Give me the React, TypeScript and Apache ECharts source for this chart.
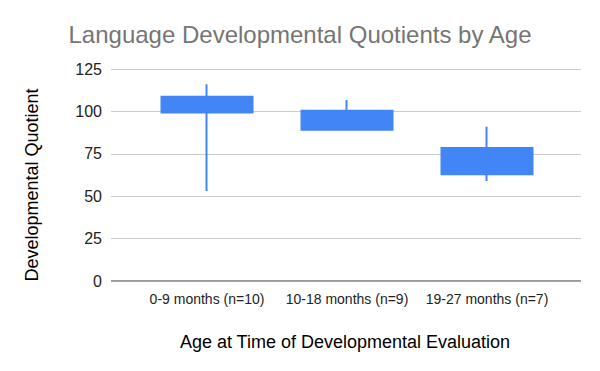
import React, { useEffect, useRef } from "react";
import * as echarts from "echarts";

const categories = ["0-9 months (n=10)", "10-18 months (n=9)", "19-27 months (n=7)"];
// [open(box bottom), close(box top), low, high]
const boxBottom = [99.3, 89.2, 62.9];
const boxTop = [108.7, 100.4, 78.4];
const whiskerLow = [53, 88.6, 59];
const whiskerHigh = [116, 106.7, 91];
const yTicks = [0, 25, 50, 75, 100, 125];

const FONT = "'Liberation Sans', Arial, sans-serif";
const BLUE = "#4285f4";

export default function App() {
  const ref = useRef<HTMLDivElement>(null);
  useEffect(() => {
    if (!ref.current) return;
    const chart = echarts.init(ref.current, undefined, { renderer: "svg" });
    const data = categories.map((_, i) => [boxBottom[i], boxTop[i], whiskerLow[i], whiskerHigh[i]]);
    chart.setOption({
      animation: false,
      backgroundColor: "#ffffff",
      textStyle: { fontFamily: FONT },
      title: {
        text: "Language Developmental Quotients by Age",
        left: "center",
        top: 17,
        textStyle: { fontFamily: FONT, fontSize: 24, fontWeight: "normal", color: "#757575" },
      },
      grid: [
        { left: 111, right: 19, top: 69, bottom: 90 },
        { left: 137, right: 43, top: 69, bottom: 90 },
      ],
      xAxis: [
        { type: "value", gridIndex: 0, show: false, min: 0, max: 1 },
        {
          type: "category",
          gridIndex: 1,
          data: categories,
          axisLine: { show: false },
          axisTick: { show: false },
          axisLabel: { color: "#222222", fontSize: 14, fontFamily: FONT, margin: 11, interval: 0 },
        },
      ],
      yAxis: [
        {
          type: "value",
          gridIndex: 0,
          min: yTicks[0],
          max: yTicks[yTicks.length - 1],
          interval: 25,
          axisLine: { show: false },
          axisTick: { show: false },
          axisLabel: { color: "#222222", fontSize: 16, fontFamily: FONT, margin: 9 },
          splitLine: { lineStyle: { color: "#cccccc", width: 1 } },
        },
        {
          type: "value",
          gridIndex: 1,
          min: yTicks[0],
          max: yTicks[yTicks.length - 1],
          interval: 25,
          show: false,
        },
      ],
      series: [
        {
          type: "line",
          xAxisIndex: 0,
          yAxisIndex: 0,
          data: [[0, 0], [1, 0]],
          symbol: "none",
          lineStyle: { color: "#333333", width: 1 },
          silent: true,
        },
        {
          type: "candlestick",
          xAxisIndex: 1,
          yAxisIndex: 1,
          data,
          barWidth: 92,
          itemStyle: {
            color: BLUE,
            color0: BLUE,
            borderColor: BLUE,
            borderColor0: BLUE,
            borderWidth: 2,
          },
        },
      ],
      graphic: [
        {
          type: "text",
          x: 32,
          y: 185,
          rotation: Math.PI / 2,
          style: {
            text: "Developmental Quotient",
            fontSize: 18,
            fontFamily: FONT,
            fill: "#000000",
            align: "center",
            verticalAlign: "middle",
          },
        },
        {
          type: "text",
          x: 345,
          y: 342,
          style: {
            text: "Age at Time of Developmental Evaluation",
            fontSize: 18,
            fontFamily: FONT,
            fill: "#000000",
            align: "center",
            verticalAlign: "middle",
          },
        },
      ],
    });
    return () => chart.dispose();
  }, []);
  return <div ref={ref} style={{ width: 600, height: 371, position: "absolute", left: 0, top: 0 }} />;
}
